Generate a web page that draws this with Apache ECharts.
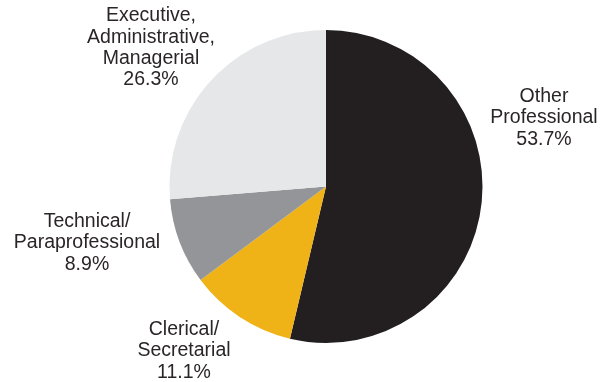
<!DOCTYPE html>
<html>
<head>
<meta charset="utf-8">
<script src="https://cdn.jsdelivr.net/npm/echarts@6/dist/echarts.min.js"></script>
<style>
  html, body { margin: 0; padding: 0; background: #ffffff; }
  #chart { width: 600px; height: 382px; }
</style>
</head>
<body>
<div id="chart"></div>
<script>
// Occupational groups, clockwise from 12 o'clock
const categories = [
  'Other\nProfessional',
  'Clerical/\nSecretarial',
  'Technical/\nParaprofessional',
  'Executive,\nAdministrative,\nManagerial'
];
const shares = [53.7, 11.1, 8.9, 26.3];
const sliceColors = ['#231f20', '#efb217', '#939598', '#e6e7e8'];

// Where each label block is centred on the page
const labelSpots = [
  [544, 118],
  [184, 351],
  [87, 243],
  [151, 48]
];

const chart = echarts.init(document.getElementById('chart'), null, { renderer: 'canvas' });

chart.setOption({
  animation: false,
  series: [{
    type: 'pie',
    center: [326, 186.5],
    radius: [0, 156.5],
    startAngle: 90,
    clockwise: true,
    avoidLabelOverlap: false,
    labelLine: { show: false },
    label: {
      show: true,
      position: 'outside',
      formatter: p => p.name + '\n' + p.value.toFixed(1) + '%',
      fontFamily: '"Liberation Sans", Arial, sans-serif',
      fontSize: 19.5,
      lineHeight: 21.3,
      color: '#2a2627',
      align: 'center'
    },
    labelLayout: params => {
      const s = labelSpots[params.dataIndex];
      return { x: s[0], y: s[1], align: 'center', verticalAlign: 'middle' };
    },
    emphasis: { disabled: true },
    data: categories.map((name, i) => ({
      name: name,
      value: shares[i],
      itemStyle: { color: sliceColors[i] }
    }))
  }]
});
</script>
</body>
</html>
